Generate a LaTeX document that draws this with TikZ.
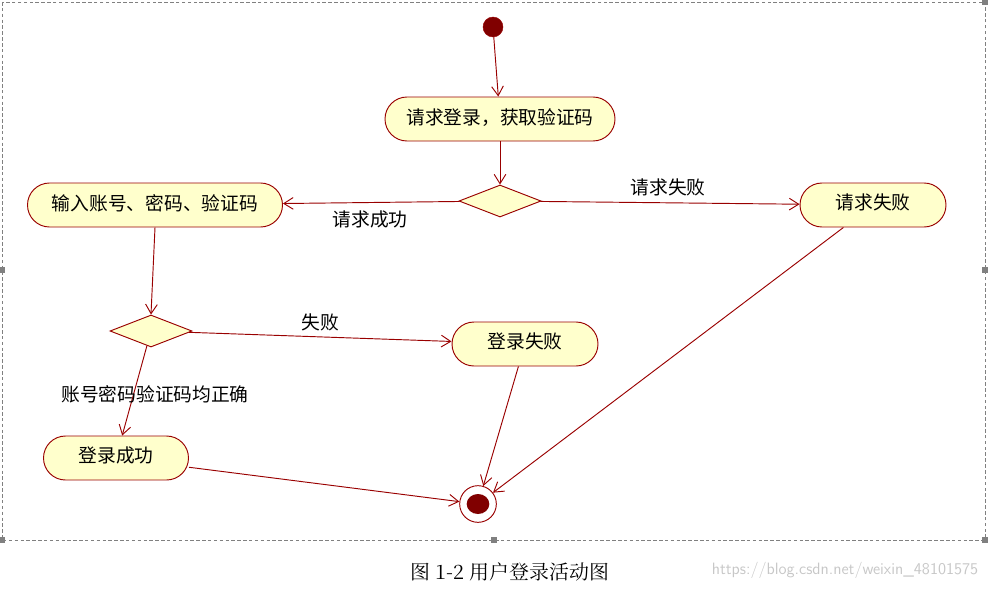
\documentclass[tikz,border=0pt]{standalone}
\usepackage{fontspec}
\setmainfont{Liberation Serif}
\newfontfamily\cjk{Noto Sans CJK SC}
\newfontfamily\cjks{Noto Serif CJK SC}
\usetikzlibrary{shapes.geometric,arrows.meta}
\definecolor{umlred}{HTML}{990000}
\definecolor{umldark}{HTML}{800000}
\definecolor{umlfill}{HTML}{FFFFCC}
\newcommand{\up}[1]{\raisebox{5pt}{#1}}
\begin{document}
\begin{tikzpicture}[x=0.03cm,y=-0.03cm,
  act/.style={draw=umlred,line width=0.8pt,fill=umlfill,rounded corners=0.66cm,minimum height=1.32cm,font=\cjk\fontsize{16pt}{16pt}\selectfont,inner sep=0pt},
  dec/.style={draw=umlred,line width=0.8pt,fill=umlfill,diamond,aspect=2.56,minimum width=2.46cm,minimum height=0.96cm,inner sep=0pt},
  flow/.style={draw=umlred,line width=0.8pt,-{Straight Barb[length=8pt,width=10pt]}},
  lbl/.style={font=\cjk\fontsize{16pt}{16pt}\selectfont}]
\useasboundingbox (0,0) rectangle (990,589);
\draw[gray,densely dashed,line width=0.4pt] (2,2) rectangle (985,540);
\foreach \p in {(2,270),(985,270),(2,540),(494,540),(985,540),(985,2)}
  \fill[gray] \p ++(-3,-3) rectangle ++(6,6);
\node[circle,fill=umldark,draw=umlred,minimum size=0.6cm,inner sep=0pt] (start) at (493,27) {};
\node[act,minimum width=6.9cm] (req) at (500,119) {\up{请求登录，获取验证码}};
\node[dec] (d1) at (500,201) {};
\node[act,minimum width=7.65cm] (input) at (155,205) {\up{输入账号、密码、验证码}};
\node[act,minimum width=4.38cm] (fail) at (873,205) {\up{请求失败}};
\node[dec] (d2) at (151,331) {};
\node[act,minimum width=4.38cm] (lfail) at (525,344) {\up{登录失败}};
\node[act,minimum width=4.35cm] (ok) at (116,458) {\up{登录成功}};
\node[circle,draw=umlred,line width=0.8pt,fill=white,minimum size=1.1cm,inner sep=0pt] (end) at (478,504) {};
\fill[umldark] (end.center) ellipse (0.34cm and 0.3cm);
\draw[flow] (start) -- (req);
\draw[flow] (req) -- (d1);
\draw[flow] (d1) -- (input);
\draw[flow] (d1) -- (fail);
\draw[flow] (input.south) -- (d2.north);
\draw[flow] (d2) -- (lfail);
\draw[flow] (d2) -- (ok);
\draw[flow] (ok) -- (end);
\draw[flow] (lfail) -- (end);
\draw[flow] (fail) -- (end);
\node[lbl] (l1) at (668,187) {请求失败};
\node[lbl] (l2) at (370,219) {请求成功};
\node[lbl] (l3) at (320,322) {失败};
\node[lbl] (l4) at (155,394) {账号密码验证码均正确};
\node[font=\cjks\fontsize{17pt}{17pt}\selectfont] (cap) at (510,572) {图 1-2 用户登录活动图};
\node[font=\fontsize{14pt}{14pt}\selectfont\sffamily,text=black!22] (wm) at (845,570) {https://blog.csdn.net/weixin\_48101575};
\end{tikzpicture}
\end{document}
